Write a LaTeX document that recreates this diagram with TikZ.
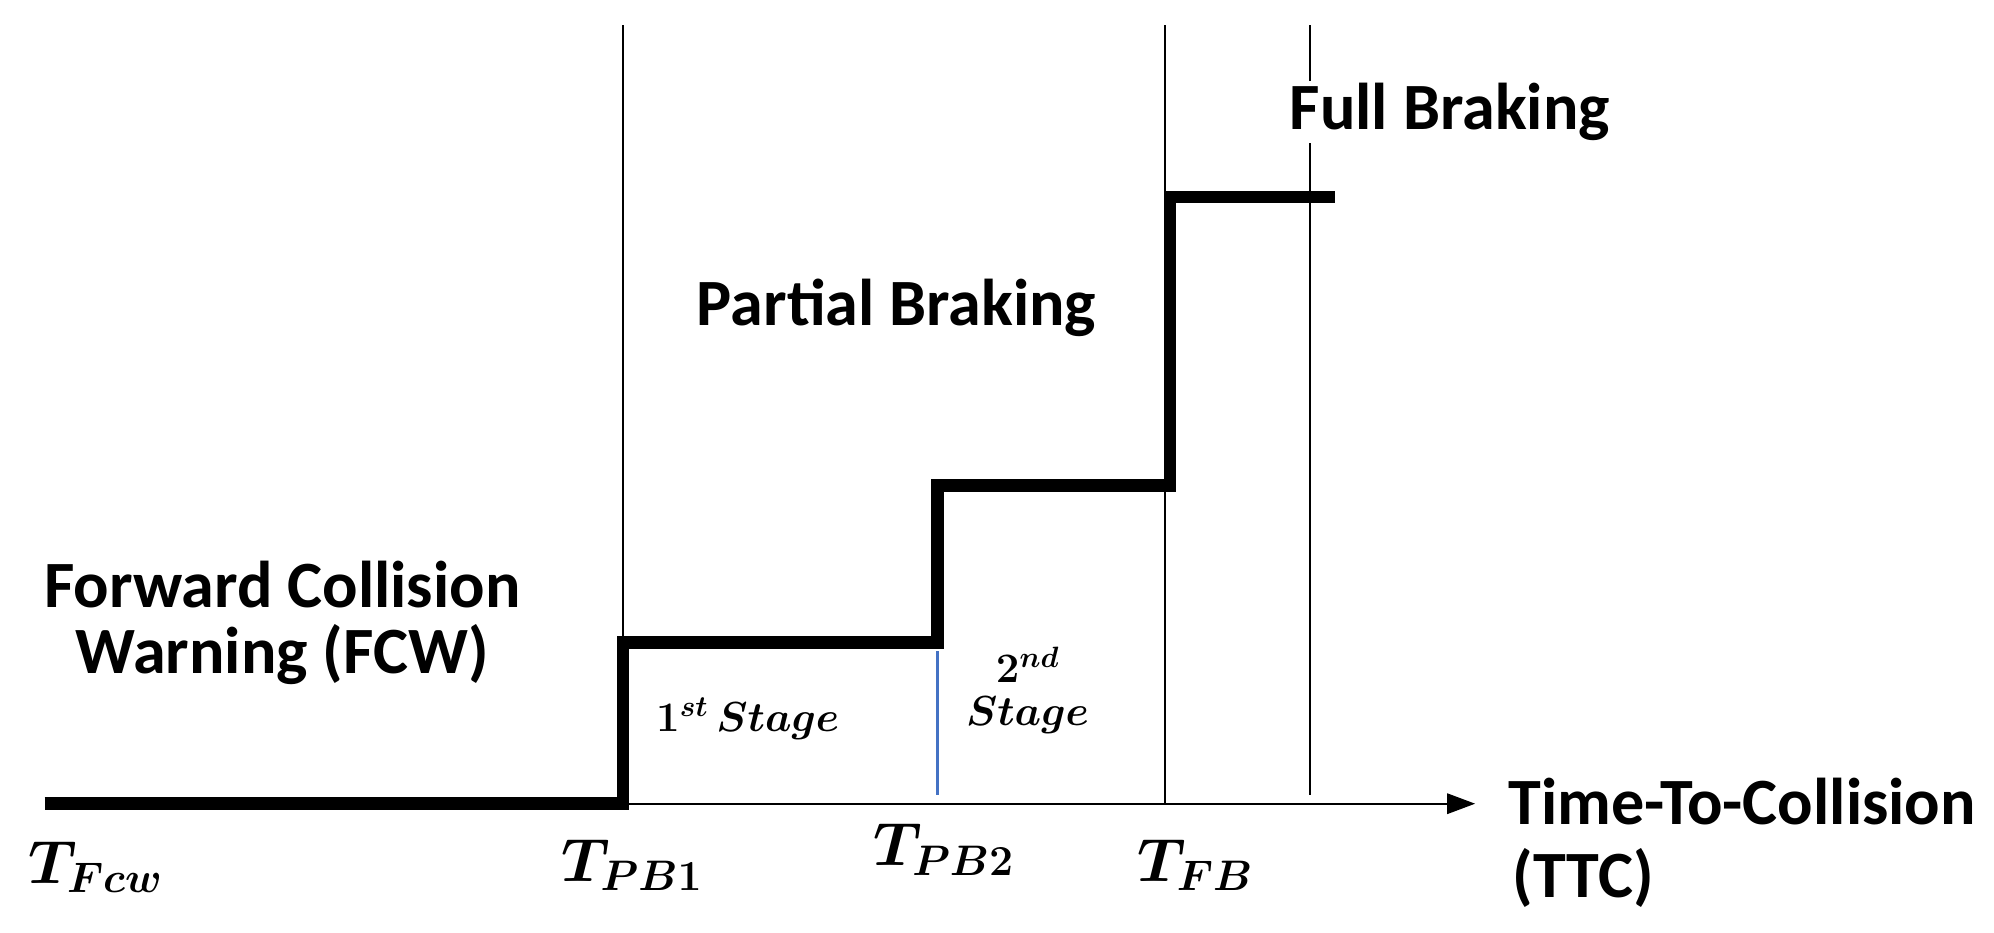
\documentclass[tikz,border=0pt]{standalone}
\usepackage{fix-cm}
\usepackage{fontspec}
\setmainfont{Carlito}
\usetikzlibrary{arrows.meta}
\begin{document}
\begin{tikzpicture}[x=1pt,y=-1pt,
  lbl/.style={font=\fontsize{52}{60}\selectfont\bfseries,align=center},
  mth/.style={font=\fontsize{48}{56}\selectfont\boldmath},
  stg/.style={font=\fontsize{33}{38}\selectfont\boldmath,align=center},
  thin/.style={line width=1.6pt},
  prof/.style={line width=10pt,line join=miter}]
\useasboundingbox (0,0) rectangle (1568,733);
\coordinate (a0) at (35,632);
\coordinate (a1) at (490,632);
\coordinate (a2) at (1160,632);
\draw[thin,-{Triangle[length=22pt,width=16pt]}] (a1) -- (a2);
\draw[prof] (a0) -- (a1) -- (490,505) -- (737,505) -- (737,382) -- (920,382) -- (920,155) -- (1050,155);
\coordinate (v1t) at (490,20); \coordinate (v1b) at (490,632);
\coordinate (v2t) at (916,20); \coordinate (v2b) at (916,632);
\coordinate (v3t) at (1030,20); \coordinate (v3b) at (1030,625);
\draw[thin] (v1t) -- (v1b);
\draw[thin] (v2t) -- (v2b);
\draw[thin] (v3t) -- (v3b);
\coordinate (bt) at (737,512); \coordinate (bb) at (737,625);
\draw[line width=2pt,color={rgb,255:red,68;green,114;blue,196}] (bt) -- (bb);
\node[lbl] (fcw) at (222,490) {Forward Collision\\[-8pt]Warning (FCW)};
\node[lbl] (pb) at (705,242) {Partial Braking};
\node[lbl,fill=white,inner sep=2pt] (fb) at (1140,88) {Full Braking};
\node[lbl] (ttc) at (1370,630) {Time-To-Collision};
\node[lbl] (ttc2) at (1245,690) {(TTC)};
\node[mth] (t0) at (75,682) {$T_{Fcw}$};
\node[mth] (t1) at (497,680) {$T_{PB1}$};
\node[mth] (t2) at (742,668) {$T_{PB2}$};
\node[mth] (t3) at (940,680) {$T_{FB}$};
\node[stg] (s1) at (588,565) {$1^{st}\,Stage$};
\node[stg] (s2) at (808,543) {$2^{nd}$\\[-4pt]$Stage$};
\end{tikzpicture}
\end{document}
